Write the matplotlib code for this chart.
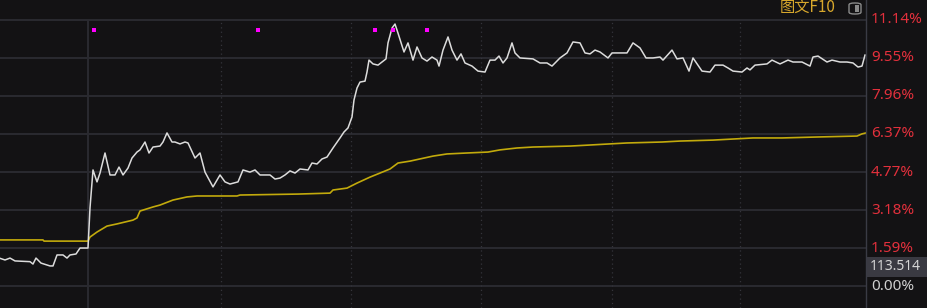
import numpy as np
import matplotlib
matplotlib.use('Agg')
import matplotlib.pyplot as plt
from matplotlib.patches import FancyBboxPatch, Rectangle

# intraday change (%) vs. time slot
price_t = [0, 5, 10, 15, 30, 33, 36, 41, 50, 53, 57, 63, 67, 70, 76, 80, 88,
           90, 92, 93, 97, 100, 105, 110, 115, 119, 123, 128, 132, 137, 140,
           145, 149, 153, 160, 163, 167, 172, 175, 180, 185, 188, 195, 200,
           205, 213, 220, 225, 230, 238, 243, 250, 255, 260, 270, 275, 280,
           285, 290, 295, 300, 308, 312, 317, 322, 327, 333, 340, 344, 348,
           352, 354, 357, 360, 365, 367, 369, 373, 378, 382, 386, 388, 392,
           395, 398, 404, 408, 413, 417, 422, 427, 432, 437, 439, 443, 448,
           452, 457, 461, 465, 472, 478, 485, 490, 495, 499, 503, 507, 512,
           515, 520, 533, 540, 547, 552, 560, 567, 573, 580, 585, 590, 595,
           600, 608, 612, 627, 633, 640, 646, 653, 660, 663, 672, 677, 683,
           689, 693, 702, 710, 715, 723, 728, 733, 742, 747, 750, 755, 767,
           772, 780, 788, 793, 802, 810, 813, 818, 827, 832, 840, 847, 853,
           858, 862, 865]
price_pct = [1.16, 1.09, 1.17, 1.05, 1.02, 0.92, 1.17, 0.96, 0.84, 0.84, 1.30,
             1.30, 1.17, 1.30, 1.34, 1.59, 1.59, 3.27, 4.31, 4.86, 4.36, 4.73,
             5.57, 4.65, 4.65, 4.98, 4.65, 4.94, 5.36, 5.61, 5.70, 6.03, 5.57,
             5.82, 5.86, 6.03, 6.41, 6.03, 6.03, 5.95, 6.03, 5.99, 5.36, 5.57,
             4.77, 4.15, 4.65, 4.36, 4.27, 4.36, 4.86, 4.77, 4.86, 4.65, 4.65,
             4.48, 4.52, 4.65, 4.82, 4.73, 4.90, 4.86, 5.15, 5.11, 5.32, 5.40,
             5.78, 6.20, 6.45, 6.62, 7.08, 7.79, 8.29, 8.54, 8.58, 8.96, 9.46,
             9.30, 9.25, 9.38, 9.51, 10.18, 10.80, 10.97, 10.59, 9.80, 10.18,
             9.46, 10.01, 9.55, 9.42, 9.59, 9.46, 9.21, 9.88, 10.43, 9.88, 9.46,
             9.72, 9.34, 9.21, 9.00, 8.96, 9.46, 9.46, 9.63, 9.34, 9.55, 10.18,
             9.76, 9.55, 9.51, 9.34, 9.34, 9.21, 9.55, 9.76, 10.22, 10.18, 9.76,
             9.72, 9.88, 9.80, 9.55, 9.76, 9.76, 10.18, 9.97, 9.55, 9.55, 9.59,
             9.46, 9.88, 9.51, 9.55, 9.00, 9.55, 9.00, 8.96, 9.25, 9.25, 9.13,
             9.00, 8.96, 9.13, 9.05, 9.25, 9.30, 9.46, 9.30, 9.46, 9.38, 9.38,
             9.21, 9.59, 9.63, 9.38, 9.46, 9.38, 9.38, 9.34, 9.17, 9.21, 9.67]

# average price line (%)
avg_t = [0, 43, 44, 88, 90, 97, 107, 117, 133, 137, 140, 153, 160, 173, 187,
         197, 237, 240, 298, 330, 333, 347, 357, 370, 390, 398, 410, 433, 447,
         467, 488, 500, 517, 533, 570, 588, 627, 662, 680, 713, 753, 782, 817,
         857, 862, 866]
avg_pct = [1.93, 1.93, 1.88, 1.88, 2.05, 2.26, 2.51, 2.60, 2.76, 2.85, 3.14,
           3.31, 3.39, 3.60, 3.73, 3.77, 3.77, 3.81, 3.85, 3.89, 4.02, 4.10,
           4.31, 4.56, 4.90, 5.15, 5.23, 5.44, 5.53, 5.57, 5.61, 5.70, 5.78,
           5.82, 5.86, 5.90, 5.99, 6.03, 6.07, 6.11, 6.20, 6.20, 6.24, 6.28,
           6.37, 6.41]

marker_t = [93.7, 258, 375, 393, 427]
marker_pct = [10.72] * 5

ticks = [0.00, 1.59, 3.18, 4.77, 6.37, 7.96, 9.55, 11.14]
tick_labels = ['0.00%', '1.59%', '3.18%', '4.77%', '6.37%', '7.96%', '9.55%', '11.14%']
session_t = 88
dotted_t = [221, 351, 481, 612, 740]
price_label = '113.514'

BG = '#131214'
GRID = '#2a2a30'
W, H = 927, 308

fig = plt.figure(figsize=(W / 100, H / 100), dpi=100)
fig.patch.set_facecolor(BG)
ax = fig.add_axes([0, 0, 866 / W, 1])
ax.set_facecolor(BG)
ax.set_xlim(0, 866)
ax.set_ylim(-0.921, 11.977)
for s in ax.spines.values():
    s.set_visible(False)
ax.set_xticks([]); ax.set_yticks([])

top_frac = (308 - 20) / 308
for v in ticks:
    ax.axhline(v, color=GRID, lw=1.4, zorder=1)
ax.axvline(session_t, ymax=top_frac, color=GRID, lw=1.4, zorder=1)
for t in dotted_t:
    ax.axvline(t, ymax=top_frac, color='#34343b', lw=0.9, ls=(0, (1, 2.5)), zorder=1)

ax.plot(avg_t, avg_pct, color='#c2aa0c', lw=1.2, zorder=3)
ax.plot(price_t, price_pct, color='#dcdcdc', lw=1.1, zorder=4)
ax.scatter(marker_t, marker_pct, marker='s', s=9, color='#ff00ff', lw=0, zorder=5)

# right border of plot
fig.add_artist(plt.Line2D([866 / W, 866 / W], [0, 1], color='#3a3b45', lw=1.0))

tr = ax.get_yaxis_transform()
for v, lab in zip(ticks, tick_labels):
    col = '#cfcfcf' if v == 0 else '#e2303c'
    ax.text(871 / 866, v, lab, transform=tr, color=col, fontsize=11,
            family='Noto Sans', va='center', ha='left', clip_on=False)

# price tag box
fig.add_artist(Rectangle((867 / W, 1 - 277 / H), 60 / W, 20 / H,
                         transform=fig.transFigure, color='#3a3a42', lw=0))
fig.text(870 / W, 1 - 267 / H, price_label, color='#d6d6d6', fontsize=10,
         family='Noto Sans', va='center', ha='left')

# top-right header
fig.text(780 / W, 1 - 8 / H, '图文F10', color='#d7a72c', fontsize=11,
         family=['Noto Sans CJK SC', 'DejaVu Sans'], va='center', ha='left')
fig.add_artist(FancyBboxPatch((849 / W, 1 - 14 / H), 12 / W, 11 / H,
                              boxstyle='round,pad=0,rounding_size=0.006',
                              transform=fig.transFigure, fill=False,
                              ec='#8a8a8a', lw=1.0))
fig.add_artist(Rectangle((855 / W, 1 - 12 / H), 4 / W, 7 / H,
                         transform=fig.transFigure, color='#8a8a8a', lw=0))

fig.savefig('out.png', dpi=100, facecolor=BG)
